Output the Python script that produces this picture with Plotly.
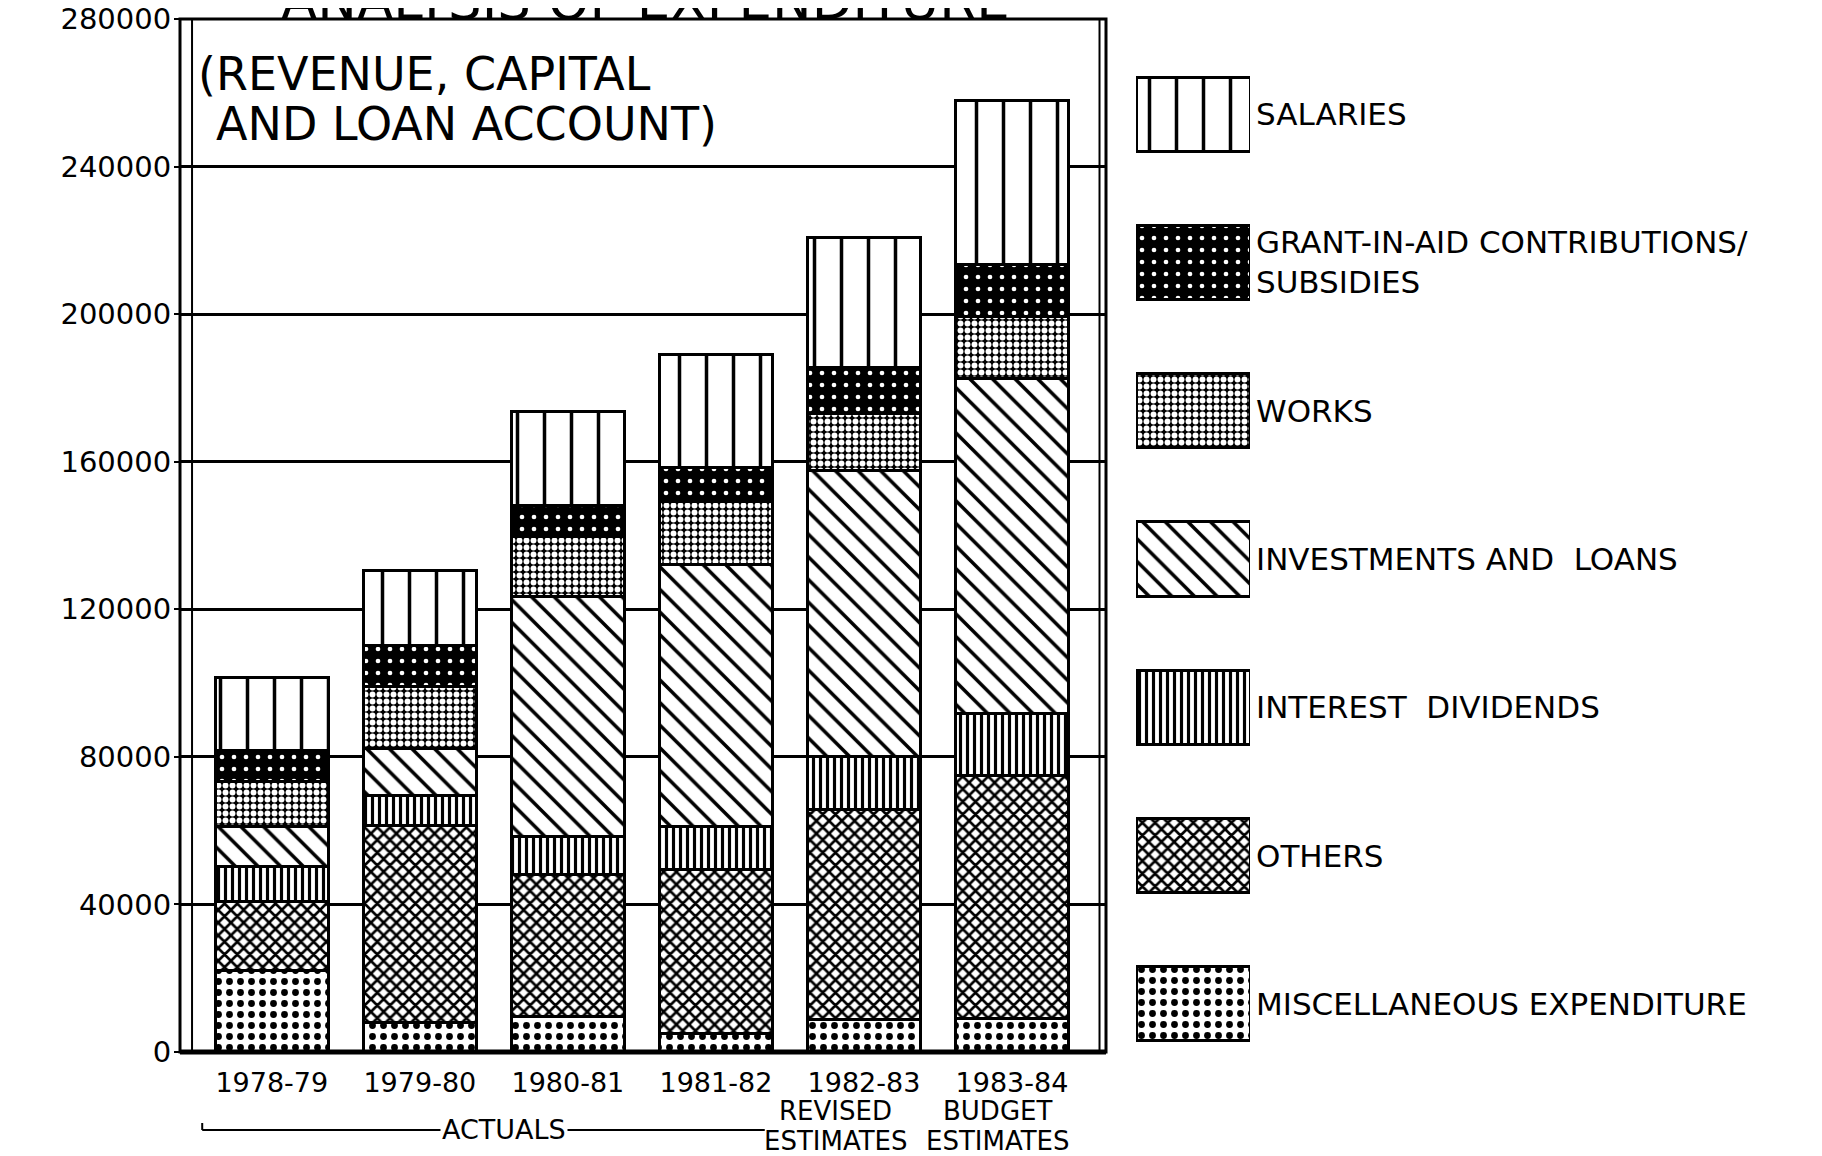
import plotly.graph_objects as go

# ---------------- data ----------------
years = ["1978-79", "1979-80", "1980-81", "1981-82", "1982-83", "1983-84"]
sub_line1 = ["", "", "", "", "REVISED", "BUDGET"]
sub_line2 = ["", "", "", "", "ESTIMATES", "ESTIMATES"]

misc = [22000, 8000, 9500, 5000, 8700, 9000]
others = [18800, 53500, 38500, 44600, 57000, 66000]
interest = [9500, 7900, 10500, 11400, 14300, 16700]
investments = [10800, 12800, 65000, 71100, 77500, 90800]
works = [12100, 16800, 16200, 17100, 15600, 16800]
grants = [8500, 11200, 8300, 9200, 12400, 14200]
salaries = [19800, 20300, 25500, 30600, 35300, 44500]

series_names = ["MISCELLANEOUS EXPENDITURE", "OTHERS", "INTEREST  DIVIDENDS",
                "INVESTMENTS AND  LOANS", "WORKS",
                "GRANT-IN-AID CONTRIBUTIONS/<br>SUBSIDIES", "SALARIES"]
series_values = [misc, others, interest, investments, works, grants, salaries]

y_ticks = [0, 40000, 80000, 120000, 160000, 200000, 240000, 280000]

# ---------------- styles ----------------
patterns = [
    dict(shape=".", bgcolor="white", fgcolor="black", size=11, solidity=0.3),   # misc
    dict(shape="x", bgcolor="white", fgcolor="black", size=9, solidity=0.5),    # others
    dict(shape="|", bgcolor="white", fgcolor="black", size=7, solidity=0.45),   # interest
    dict(shape="\\", bgcolor="white", fgcolor="black", size=16, solidity=0.22), # investments
    dict(shape=".", bgcolor="black", fgcolor="white", size=7, solidity=0.55),   # works
    dict(shape=".", bgcolor="black", fgcolor="white", size=12, solidity=0.12),  # grants
    dict(shape="|", bgcolor="white", fgcolor="black", size=27, solidity=0.13),  # salaries
]

W, H = 1822, 1156
OFF = 8  # page body margin offset
FONT = "DejaVu Sans"
px_x = lambda p: (p - OFF) / W
px_y = lambda p: 1 - (p - OFF) / H

fig = go.Figure()

for name, vals, pat in zip(series_names, series_values, patterns):
    fig.add_trace(go.Bar(
        x=years, y=vals, name=name, width=0.76,
        marker=dict(color=pat["bgcolor"], line=dict(color="black", width=3),
                    pattern=dict(fillmode="replace", **pat)),
        showlegend=False, xaxis="x", yaxis="y",
    ))

# custom legend built as a small horizontal bar grid
legend_order = list(range(len(series_names)))[::-1]  # salaries at top
for i in legend_order:
    pat = patterns[i]
    fig.add_trace(go.Bar(
        x=[1], y=[series_names[i]], orientation="h", width=0.5,
        marker=dict(color=pat["bgcolor"], line=dict(color="black", width=3),
                    pattern=dict(fillmode="replace", **pat)),
        showlegend=False, xaxis="x2", yaxis="y2", hoverinfo="skip",
    ))
    fig.add_annotation(x=px_x(1254), xref="paper", xanchor="left",
                       y=series_names[i], yref="y2", yanchor="middle",
                       text=series_names[i], showarrow=False, align="left",
                       font=dict(family=FONT, size=31, color="black"))

legend_cats = [series_names[i] for i in legend_order]

fig.update_layout(
    width=W, height=H, margin=dict(l=0, r=0, t=0, b=0, autoexpand=False),
    paper_bgcolor="white", plot_bgcolor="white", barmode="stack", bargap=0.24,
    xaxis=dict(domain=[px_x(180), px_x(1106)], range=[-0.62, 5.635],
               type="category", categoryarray=years, automargin=False,
               showgrid=False, zeroline=False, showline=False, ticks="",
               ticklabelstandoff=12,
               tickfont=dict(family=FONT, size=27, color="black")),
    yaxis=dict(domain=[px_y(1052), px_y(19)], range=[0, 280000], automargin=False,
               tickvals=y_ticks, tickformat="d", ticklabeloverflow="allow",
               showgrid=True, gridcolor="black", gridwidth=2.5,
               zeroline=False, showline=False, ticks="outside", ticklen=5,
               tickwidth=2, tickcolor="black", ticklabelstandoff=-3,
               tickfont=dict(family=FONT, size=29, color="black")),
    xaxis2=dict(domain=[px_x(1136), px_x(1250)], range=[0, 1], visible=False,
                automargin=False),
    yaxis2=dict(domain=[px_y(1078), px_y(40)], type="category", automargin=False,
                categoryarray=legend_cats, range=[6.5, -0.5], visible=False),
)

# frame: outer rectangle, inner double lines, heavy base
fig.add_shape(type="rect", xref="x domain", yref="y domain", x0=0, x1=1, y0=0, y1=1,
              line=dict(color="black", width=3))
fig.add_shape(type="line", xref="x domain", yref="y domain", x0=0.013, x1=0.013, y0=0, y1=1,
              line=dict(color="black", width=2))
fig.add_shape(type="line", xref="x domain", yref="y domain", x0=0.993, x1=0.993, y0=0, y1=1,
              line=dict(color="black", width=2))
fig.add_shape(type="line", xref="x domain", yref="y domain", x0=0, x1=1, y0=0, y1=0,
              line=dict(color="black", width=5))

# title (cut at the top edge as in the scan)
fig.add_annotation(x=px_x(645), y=1, xref="paper", yref="paper", xanchor="center",
                   yanchor="bottom", yshift=-25, showarrow=False,
                   text="ANALYSIS OF EXPENDITURE",
                   font=dict(family=FONT, size=53, color="black"))

# subtitle inside the frame
fig.add_annotation(x=px_x(196), y=px_y(74), xref="paper", yref="paper", xanchor="left",
                   yanchor="middle", showarrow=False, text="(REVENUE, CAPITAL",
                   font=dict(family=FONT, size=46, color="black"))
fig.add_annotation(x=px_x(214), y=px_y(124), xref="paper", yref="paper", xanchor="left",
                   yanchor="middle", showarrow=False, text="AND LOAN ACCOUNT)",
                   font=dict(family=FONT, size=46, color="black"))

# second-line category notes
for yr, l1, l2 in zip(years, sub_line1, sub_line2):
    if l1:
        shift = -28 if yr == "1982-83" else -14
        fig.add_annotation(x=yr, xref="x", y=px_y(1111), yref="paper", yanchor="middle",
                           xshift=shift, text=l1, showarrow=False,
                           font=dict(family=FONT, size=26, color="black"))
        fig.add_annotation(x=yr, xref="x", y=px_y(1141), yref="paper", yanchor="middle",
                           xshift=shift, text=l2, showarrow=False,
                           font=dict(family=FONT, size=26, color="black"))

# ACTUALS bracket
n_actual = 4
fig.add_shape(type="line", xref="x", yref="paper", x0=-0.47, x1=n_actual - 0.67,
              y0=px_y(1130), y1=px_y(1130), line=dict(color="black", width=2))
fig.add_shape(type="line", xref="x", yref="paper", x0=-0.47, x1=-0.47,
              y0=px_y(1130), y1=px_y(1123), line=dict(color="black", width=2))
fig.add_annotation(x=(n_actual - 1) / 2 + 0.07, xref="x", y=px_y(1129), yref="paper",
                   yanchor="middle", text="ACTUALS", showarrow=False, bgcolor="white",
                   font=dict(family=FONT, size=27, color="black"))

fig.write_html("out.html")
